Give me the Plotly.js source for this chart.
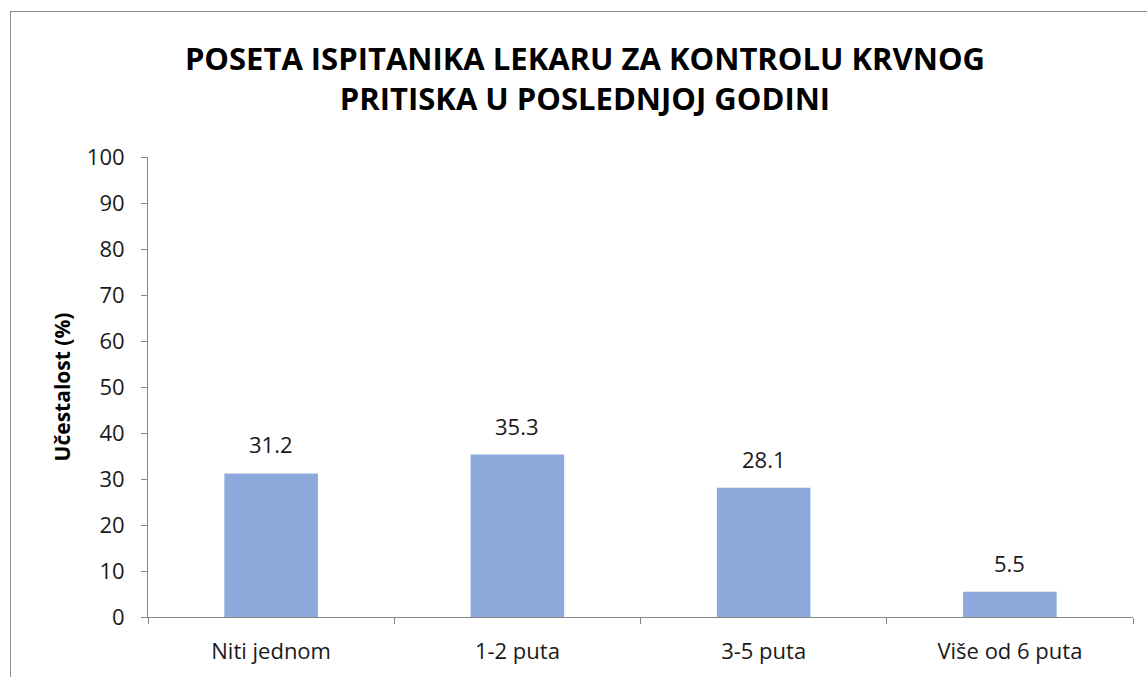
<!DOCTYPE html>
<html>
<head>
<meta charset="utf-8">
<script src="https://cdn.plot.ly/plotly-3.0.1.min.js"></script>
<style>
  html, body { margin: 0; padding: 0; background: #fff; }
  #wrap { position: relative; width: 1147px; height: 677px; overflow: hidden; }
  #chart { width: 1147px; height: 677px; }
  #frame { position: absolute; left: 10px; top: 11px; width: 1200px; height: 800px;
           border: 1px solid #8c8c8c; pointer-events: none; }
</style>
</head>
<body>
<div id="wrap">
  <div id="chart"></div>
  <div id="frame"></div>
</div>
<script>
const categories = ["Niti jednom", "1-2 puta", "3-5 puta", "Više od 6 puta"];
const values = [31.2, 35.3, 28.1, 5.5];
const valueLabels = ["31.2", "35.3", "28.1", "5.5"];
const yTicks = [0, 10, 20, 30, 40, 50, 60, 70, 80, 90, 100];

const font = "Open Sans, Liberation Sans, sans-serif";

const trace = {
  type: "bar",
  x: categories,
  y: values,
  marker: { color: "#8eaadc", line: { width: 0 } },
  hoverinfo: "skip"
};

const annotations = categories.map((c, i) => ({
  x: c,
  y: values[i],
  xref: "x",
  yref: "y",
  text: valueLabels[i],
  showarrow: false,
  yanchor: "bottom",
  yshift: 12,
  font: { family: font, size: 22, color: "#1a1a1a" }
}));

const layout = {
  width: 1147,
  height: 677,
  margin: { l: 148, r: 14, t: 157, b: 60 },
  paper_bgcolor: "#ffffff",
  plot_bgcolor: "#ffffff",
  bargap: 0.62,
  showlegend: false,
  annotations: annotations,
  title: {
    text: "<b>POSETA ISPITANIKA LEKARU ZA KONTROLU KRVNOG<br>PRITISKA U POSLEDNJOJ GODINI</b>",
    x: 0.51,
    xanchor: "center",
    y: 0.897,
    yanchor: "middle",
    font: { family: font, size: 31, color: "#000000" }
  },
  xaxis: {
    type: "category",
    showgrid: false,
    showline: true,
    linecolor: "#868686",
    linewidth: 1,
    ticks: "outside",
    tickson: "boundaries",
    ticklen: 6,
    tickcolor: "#868686",
    ticklabelstandoff: 15,
    tickfont: { family: font, size: 22, color: "#1a1a1a" },
    zeroline: false
  },
  yaxis: {
    range: [0, 100],
    tickvals: yTicks,
    ticktext: yTicks.map(String),
    showgrid: false,
    showline: true,
    linecolor: "#868686",
    linewidth: 1,
    ticks: "outside",
    ticklen: 6,
    tickcolor: "#868686",
    ticklabelstandoff: 12,
    zeroline: false,
    tickfont: { family: font, size: 22, color: "#1a1a1a" },
    title: {
      text: "<b>Učestalost (%)</b>",
      font: { family: font, size: 21, color: "#000000" },
      standoff: 10
    }
  }
};

Plotly.newPlot("chart", [trace], layout, { displayModeBar: false, staticPlot: true });
</script>
</body>
</html>
